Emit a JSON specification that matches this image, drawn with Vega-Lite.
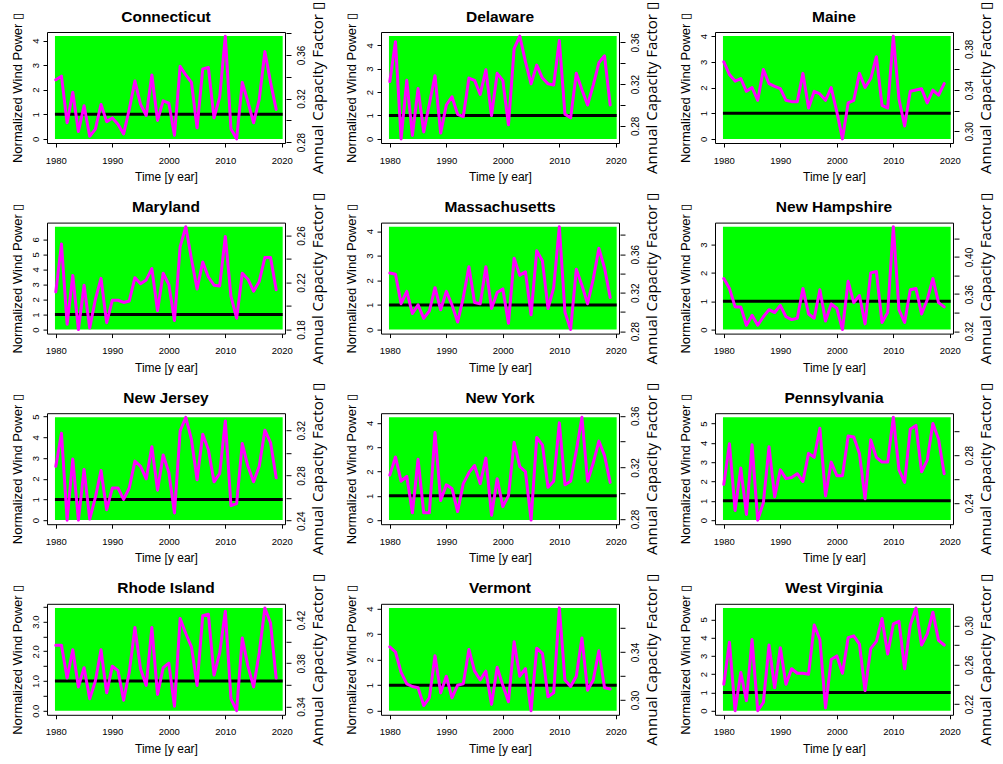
{
"$schema": "https://vega.github.io/schema/vega-lite/v6.json",
"padding": {"left": 10, "top": 1, "right": 2, "bottom": 10},
"background": "white",
"bounds": "flush",
"spacing": {"row": 79.6, "column": 96},
"columns": 3,
"config": {
 "view": {"stroke": "black", "strokeWidth": 1},
 "axis": {"grid": false, "domain": false, "ticks": true, "tickColor": "black", "tickSize": 4, "tickWidth": 1, "labelColor": "black", "labelFont": "Liberation Sans", "labelFontSize": 9.5, "titleColor": "black", "titleFont": "Liberation Sans", "titleFontWeight": "normal", "labelOverlap": false, "labelFlush": false},
 "axisX": {"labelPadding": 8, "titleFontSize": 12, "titlePadding": 7},
 "axisLeft": {"labelAngle": 270, "labelAlign": "center", "labelBaseline": "bottom", "labelPadding": 3, "titleFontSize": 13, "titlePadding": 6},
 "axisRight": {"labelAngle": 270, "labelAlign": "center", "labelBaseline": "top", "labelPadding": 5, "labelFontSize": 10, "titleFont": "Open Sans", "titleFontSize": 15, "titleAngle": 270, "titleBaseline": "top", "titlePadding": 4, "offset": 1, "tickSize": 5},
 "title": {"font": "Liberation Sans", "fontSize": 15.5, "fontWeight": "bold", "color": "black", "offset": -23.5, "frame": "group", "anchor": "middle"}
},
"datasets": {
 "panels": [
  {"state": "CT", "x1": 1979.85, "x2": 2020.15, "base": 0, "top": 4.18, "level": 1},
  {"state": "DE", "x1": 1979.85, "x2": 2020.15, "base": 0, "top": 4.39, "level": 1},
  {"state": "ME", "x1": 1979.85, "x2": 2020.15, "base": 0, "top": 4.0, "level": 1},
  {"state": "MD", "x1": 1979.85, "x2": 2020.15, "base": 0, "top": 6.85, "level": 1},
  {"state": "MA", "x1": 1979.85, "x2": 2020.15, "base": 0, "top": 4.18, "level": 1},
  {"state": "NH", "x1": 1979.85, "x2": 2020.15, "base": 0, "top": 3.63, "level": 1},
  {"state": "NJ", "x1": 1979.85, "x2": 2020.15, "base": 0, "top": 4.97, "level": 1},
  {"state": "NY", "x1": 1979.85, "x2": 2020.15, "base": 0, "top": 4.23, "level": 1},
  {"state": "PA", "x1": 1979.85, "x2": 2020.15, "base": 0, "top": 5.32, "level": 1},
  {"state": "RI", "x1": 1979.85, "x2": 2020.15, "base": 0, "top": 3.46, "level": 1},
  {"state": "VT", "x1": 1979.85, "x2": 2020.15, "base": 0, "top": 4.03, "level": 1},
  {"state": "WV", "x1": 1979.85, "x2": 2020.15, "base": 0, "top": 5.63, "level": 1}
 ],
 "cf": [
  {"state":"CT","year":1980,"cf":0.3371},{"state":"CT","year":1981,"cf":0.3405},{"state":"CT","year":1982,"cf":0.2977},{"state":"CT","year":1983,"cf":0.3258},{"state":"CT","year":1984,"cf":0.2898},{"state":"CT","year":1985,"cf":0.3134},{"state":"CT","year":1986,"cf":0.2853},{"state":"CT","year":1987,"cf":0.2920},{"state":"CT","year":1988,"cf":0.3146},{"state":"CT","year":1989,"cf":0.2988},
  {"state":"CT","year":1990,"cf":0.3022},{"state":"CT","year":1991,"cf":0.2965},{"state":"CT","year":1992,"cf":0.2875},{"state":"CT","year":1993,"cf":0.3100},{"state":"CT","year":1994,"cf":0.3360},{"state":"CT","year":1995,"cf":0.3146},{"state":"CT","year":1996,"cf":0.3044},{"state":"CT","year":1997,"cf":0.3416},{"state":"CT","year":1998,"cf":0.2999},{"state":"CT","year":1999,"cf":0.3179},
  {"state":"CT","year":2000,"cf":0.3157},{"state":"CT","year":2001,"cf":0.2864},{"state":"CT","year":2002,"cf":0.3495},{"state":"CT","year":2003,"cf":0.3416},{"state":"CT","year":2004,"cf":0.3348},{"state":"CT","year":2005,"cf":0.2931},{"state":"CT","year":2006,"cf":0.3472},{"state":"CT","year":2007,"cf":0.3484},{"state":"CT","year":2008,"cf":0.3022},{"state":"CT","year":2009,"cf":0.3213},
  {"state":"CT","year":2010,"cf":0.3772},{"state":"CT","year":2011,"cf":0.2920},{"state":"CT","year":2012,"cf":0.2830},{"state":"CT","year":2013,"cf":0.3348},{"state":"CT","year":2014,"cf":0.3168},{"state":"CT","year":2015,"cf":0.2977},{"state":"CT","year":2016,"cf":0.3191},{"state":"CT","year":2017,"cf":0.3630},{"state":"CT","year":2018,"cf":0.3348},{"state":"CT","year":2019,"cf":0.3100},
  {"state":"DE","year":1980,"cf":0.3225},{"state":"DE","year":1981,"cf":0.3606},{"state":"DE","year":1982,"cf":0.2675},{"state":"DE","year":1983,"cf":0.3236},{"state":"DE","year":1984,"cf":0.2709},{"state":"DE","year":1985,"cf":0.3157},{"state":"DE","year":1986,"cf":0.2742},{"state":"DE","year":1987,"cf":0.3011},{"state":"DE","year":1988,"cf":0.3281},{"state":"DE","year":1989,"cf":0.2731},
  {"state":"DE","year":1990,"cf":0.3000},{"state":"DE","year":1991,"cf":0.3079},{"state":"DE","year":1992,"cf":0.2911},{"state":"DE","year":1993,"cf":0.2888},{"state":"DE","year":1994,"cf":0.3258},{"state":"DE","year":1995,"cf":0.3236},{"state":"DE","year":1996,"cf":0.3101},{"state":"DE","year":1997,"cf":0.3337},{"state":"DE","year":1998,"cf":0.2899},{"state":"DE","year":1999,"cf":0.3303},
  {"state":"DE","year":2000,"cf":0.3236},{"state":"DE","year":2001,"cf":0.2810},{"state":"DE","year":2002,"cf":0.3539},{"state":"DE","year":2003,"cf":0.3660},{"state":"DE","year":2004,"cf":0.3415},{"state":"DE","year":2005,"cf":0.3202},{"state":"DE","year":2006,"cf":0.3382},{"state":"DE","year":2007,"cf":0.3258},{"state":"DE","year":2008,"cf":0.3202},{"state":"DE","year":2009,"cf":0.3191},
  {"state":"DE","year":2010,"cf":0.3617},{"state":"DE","year":2011,"cf":0.2911},{"state":"DE","year":2012,"cf":0.2877},{"state":"DE","year":2013,"cf":0.3303},{"state":"DE","year":2014,"cf":0.3146},{"state":"DE","year":2015,"cf":0.3000},{"state":"DE","year":2016,"cf":0.3191},{"state":"DE","year":2017,"cf":0.3404},{"state":"DE","year":2018,"cf":0.3471},{"state":"DE","year":2019,"cf":0.3000},
  {"state":"ME","year":1980,"cf":0.3674},{"state":"ME","year":1981,"cf":0.3550},{"state":"ME","year":1982,"cf":0.3487},{"state":"ME","year":1983,"cf":0.3512},{"state":"ME","year":1984,"cf":0.3388},{"state":"ME","year":1985,"cf":0.3425},{"state":"ME","year":1986,"cf":0.3301},{"state":"ME","year":1987,"cf":0.3599},{"state":"ME","year":1988,"cf":0.3462},{"state":"ME","year":1989,"cf":0.3437},
  {"state":"ME","year":1990,"cf":0.3413},{"state":"ME","year":1991,"cf":0.3301},{"state":"ME","year":1992,"cf":0.3288},{"state":"ME","year":1993,"cf":0.3288},{"state":"ME","year":1994,"cf":0.3562},{"state":"ME","year":1995,"cf":0.3226},{"state":"ME","year":1996,"cf":0.3388},{"state":"ME","year":1997,"cf":0.3363},{"state":"ME","year":1998,"cf":0.3301},{"state":"ME","year":1999,"cf":0.3425},
  {"state":"ME","year":2000,"cf":0.3188},{"state":"ME","year":2001,"cf":0.2927},{"state":"ME","year":2002,"cf":0.3276},{"state":"ME","year":2003,"cf":0.3301},{"state":"ME","year":2004,"cf":0.3562},{"state":"ME","year":2005,"cf":0.3425},{"state":"ME","year":2006,"cf":0.3512},{"state":"ME","year":2007,"cf":0.3724},{"state":"ME","year":2008,"cf":0.3251},{"state":"ME","year":2009,"cf":0.3226},
  {"state":"ME","year":2010,"cf":0.3923},{"state":"ME","year":2011,"cf":0.3313},{"state":"ME","year":2012,"cf":0.3052},{"state":"ME","year":2013,"cf":0.3388},{"state":"ME","year":2014,"cf":0.3400},{"state":"ME","year":2015,"cf":0.3413},{"state":"ME","year":2016,"cf":0.3276},{"state":"ME","year":2017,"cf":0.3400},{"state":"ME","year":2018,"cf":0.3350},{"state":"ME","year":2019,"cf":0.3462},
  {"state":"MD","year":1980,"cf":0.2120},{"state":"MD","year":1981,"cf":0.2528},{"state":"MD","year":1982,"cf":0.1845},{"state":"MD","year":1983,"cf":0.2260},{"state":"MD","year":1984,"cf":0.1800},{"state":"MD","year":1985,"cf":0.2177},{"state":"MD","year":1986,"cf":0.1813},{"state":"MD","year":1987,"cf":0.2056},{"state":"MD","year":1988,"cf":0.2235},{"state":"MD","year":1989,"cf":0.1858},
  {"state":"MD","year":1990,"cf":0.2049},{"state":"MD","year":1991,"cf":0.2049},{"state":"MD","year":1992,"cf":0.2030},{"state":"MD","year":1993,"cf":0.2043},{"state":"MD","year":1994,"cf":0.2241},{"state":"MD","year":1995,"cf":0.2190},{"state":"MD","year":1996,"cf":0.2222},{"state":"MD","year":1997,"cf":0.2318},{"state":"MD","year":1998,"cf":0.1960},{"state":"MD","year":1999,"cf":0.2279},
  {"state":"MD","year":2000,"cf":0.2183},{"state":"MD","year":2001,"cf":0.1877},{"state":"MD","year":2002,"cf":0.2503},{"state":"MD","year":2003,"cf":0.2675},{"state":"MD","year":2004,"cf":0.2401},{"state":"MD","year":2005,"cf":0.2145},{"state":"MD","year":2006,"cf":0.2375},{"state":"MD","year":2007,"cf":0.2247},{"state":"MD","year":2008,"cf":0.2177},{"state":"MD","year":2009,"cf":0.2171},
  {"state":"MD","year":2010,"cf":0.2592},{"state":"MD","year":2011,"cf":0.2081},{"state":"MD","year":2012,"cf":0.1896},{"state":"MD","year":2013,"cf":0.2279},{"state":"MD","year":2014,"cf":0.2228},{"state":"MD","year":2015,"cf":0.2126},{"state":"MD","year":2016,"cf":0.2209},{"state":"MD","year":2017,"cf":0.2413},{"state":"MD","year":2018,"cf":0.2413},{"state":"MD","year":2019,"cf":0.2139},
  {"state":"MA","year":1980,"cf":0.3405},{"state":"MA","year":1981,"cf":0.3392},{"state":"MA","year":1982,"cf":0.3085},{"state":"MA","year":1983,"cf":0.3213},{"state":"MA","year":1984,"cf":0.2983},{"state":"MA","year":1985,"cf":0.3073},{"state":"MA","year":1986,"cf":0.2932},{"state":"MA","year":1987,"cf":0.3009},{"state":"MA","year":1988,"cf":0.3252},{"state":"MA","year":1989,"cf":0.3022},
  {"state":"MA","year":1990,"cf":0.3213},{"state":"MA","year":1991,"cf":0.3073},{"state":"MA","year":1992,"cf":0.2894},{"state":"MA","year":1993,"cf":0.3149},{"state":"MA","year":1994,"cf":0.3469},{"state":"MA","year":1995,"cf":0.3098},{"state":"MA","year":1996,"cf":0.3085},{"state":"MA","year":1997,"cf":0.3469},{"state":"MA","year":1998,"cf":0.3034},{"state":"MA","year":1999,"cf":0.3201},
  {"state":"MA","year":2000,"cf":0.3239},{"state":"MA","year":2001,"cf":0.2881},{"state":"MA","year":2002,"cf":0.3559},{"state":"MA","year":2003,"cf":0.3380},{"state":"MA","year":2004,"cf":0.3418},{"state":"MA","year":2005,"cf":0.2970},{"state":"MA","year":2006,"cf":0.3635},{"state":"MA","year":2007,"cf":0.3533},{"state":"MA","year":2008,"cf":0.3034},{"state":"MA","year":2009,"cf":0.3252},
  {"state":"MA","year":2010,"cf":0.3886},{"state":"MA","year":2011,"cf":0.2996},{"state":"MA","year":2012,"cf":0.2817},{"state":"MA","year":2013,"cf":0.3443},{"state":"MA","year":2014,"cf":0.3277},{"state":"MA","year":2015,"cf":0.3085},{"state":"MA","year":2016,"cf":0.3341},{"state":"MA","year":2017,"cf":0.3661},{"state":"MA","year":2018,"cf":0.3456},{"state":"MA","year":2019,"cf":0.3149},
  {"state":"NH","year":1980,"cf":0.3768},{"state":"NH","year":1981,"cf":0.3661},{"state":"NH","year":1982,"cf":0.3462},{"state":"NH","year":1983,"cf":0.3462},{"state":"NH","year":1984,"cf":0.3264},{"state":"NH","year":1985,"cf":0.3371},{"state":"NH","year":1986,"cf":0.3264},{"state":"NH","year":1987,"cf":0.3356},{"state":"NH","year":1988,"cf":0.3432},{"state":"NH","year":1989,"cf":0.3401},
  {"state":"NH","year":1990,"cf":0.3478},{"state":"NH","year":1991,"cf":0.3356},{"state":"NH","year":1992,"cf":0.3325},{"state":"NH","year":1993,"cf":0.3340},{"state":"NH","year":1994,"cf":0.3661},{"state":"NH","year":1995,"cf":0.3386},{"state":"NH","year":1996,"cf":0.3340},{"state":"NH","year":1997,"cf":0.3646},{"state":"NH","year":1998,"cf":0.3310},{"state":"NH","year":1999,"cf":0.3493},
  {"state":"NH","year":2000,"cf":0.3447},{"state":"NH","year":2001,"cf":0.3218},{"state":"NH","year":2002,"cf":0.3738},{"state":"NH","year":2003,"cf":0.3508},{"state":"NH","year":2004,"cf":0.3585},{"state":"NH","year":2005,"cf":0.3279},{"state":"NH","year":2006,"cf":0.3829},{"state":"NH","year":2007,"cf":0.3844},{"state":"NH","year":2008,"cf":0.3294},{"state":"NH","year":2009,"cf":0.3401},
  {"state":"NH","year":2010,"cf":0.4327},{"state":"NH","year":2011,"cf":0.3432},{"state":"NH","year":2012,"cf":0.3294},{"state":"NH","year":2013,"cf":0.3646},{"state":"NH","year":2014,"cf":0.3661},{"state":"NH","year":2015,"cf":0.3386},{"state":"NH","year":2016,"cf":0.3539},{"state":"NH","year":2017,"cf":0.3768},{"state":"NH","year":2018,"cf":0.3508},{"state":"NH","year":2019,"cf":0.3462},
  {"state":"NJ","year":1980,"cf":0.2881},{"state":"NJ","year":1981,"cf":0.3174},{"state":"NJ","year":1982,"cf":0.2405},{"state":"NJ","year":1983,"cf":0.2945},{"state":"NJ","year":1984,"cf":0.2405},{"state":"NJ","year":1985,"cf":0.2853},{"state":"NJ","year":1986,"cf":0.2414},{"state":"NJ","year":1987,"cf":0.2606},{"state":"NJ","year":1988,"cf":0.2844},{"state":"NJ","year":1989,"cf":0.2497},
  {"state":"NJ","year":1990,"cf":0.2689},{"state":"NJ","year":1991,"cf":0.2689},{"state":"NJ","year":1992,"cf":0.2588},{"state":"NJ","year":1993,"cf":0.2689},{"state":"NJ","year":1994,"cf":0.2927},{"state":"NJ","year":1995,"cf":0.2881},{"state":"NJ","year":1996,"cf":0.2771},{"state":"NJ","year":1997,"cf":0.3055},{"state":"NJ","year":1998,"cf":0.2670},{"state":"NJ","year":1999,"cf":0.2981},
  {"state":"NJ","year":2000,"cf":0.2826},{"state":"NJ","year":2001,"cf":0.2469},{"state":"NJ","year":2002,"cf":0.3192},{"state":"NJ","year":2003,"cf":0.3315},{"state":"NJ","year":2004,"cf":0.3119},{"state":"NJ","year":2005,"cf":0.2762},{"state":"NJ","year":2006,"cf":0.3164},{"state":"NJ","year":2007,"cf":0.3027},{"state":"NJ","year":2008,"cf":0.2744},{"state":"NJ","year":2009,"cf":0.2817},
  {"state":"NJ","year":2010,"cf":0.3283},{"state":"NJ","year":2011,"cf":0.2533},{"state":"NJ","year":2012,"cf":0.2551},{"state":"NJ","year":2013,"cf":0.3082},{"state":"NJ","year":2014,"cf":0.2881},{"state":"NJ","year":2015,"cf":0.2744},{"state":"NJ","year":2016,"cf":0.2881},{"state":"NJ","year":2017,"cf":0.3201},{"state":"NJ","year":2018,"cf":0.3091},{"state":"NJ","year":2019,"cf":0.2780},
  {"state":"NY","year":1980,"cf":0.3140},{"state":"NY","year":1981,"cf":0.3281},{"state":"NY","year":1982,"cf":0.3093},{"state":"NY","year":1983,"cf":0.3131},{"state":"NY","year":1984,"cf":0.2848},{"state":"NY","year":1985,"cf":0.3263},{"state":"NY","year":1986,"cf":0.2848},{"state":"NY","year":1987,"cf":0.2848},{"state":"NY","year":1988,"cf":0.3470},{"state":"NY","year":1989,"cf":0.2943},
  {"state":"NY","year":1990,"cf":0.3065},{"state":"NY","year":1991,"cf":0.3037},{"state":"NY","year":1992,"cf":0.2858},{"state":"NY","year":1993,"cf":0.3074},{"state":"NY","year":1994,"cf":0.3159},{"state":"NY","year":1995,"cf":0.3215},{"state":"NY","year":1996,"cf":0.3074},{"state":"NY","year":1997,"cf":0.3272},{"state":"NY","year":1998,"cf":0.2830},{"state":"NY","year":1999,"cf":0.3112},
  {"state":"NY","year":2000,"cf":0.2896},{"state":"NY","year":2001,"cf":0.2980},{"state":"NY","year":2002,"cf":0.3394},{"state":"NY","year":2003,"cf":0.3206},{"state":"NY","year":2004,"cf":0.3168},{"state":"NY","year":2005,"cf":0.2792},{"state":"NY","year":2006,"cf":0.3432},{"state":"NY","year":2007,"cf":0.3375},{"state":"NY","year":2008,"cf":0.3046},{"state":"NY","year":2009,"cf":0.3093},
  {"state":"NY","year":2010,"cf":0.3545},{"state":"NY","year":2011,"cf":0.3065},{"state":"NY","year":2012,"cf":0.3093},{"state":"NY","year":2013,"cf":0.3328},{"state":"NY","year":2014,"cf":0.3588},{"state":"NY","year":2015,"cf":0.3093},{"state":"NY","year":2016,"cf":0.3234},{"state":"NY","year":2017,"cf":0.3404},{"state":"NY","year":2018,"cf":0.3291},{"state":"NY","year":2019,"cf":0.3084},
  {"state":"PA","year":1980,"cf":0.2556},{"state":"PA","year":1981,"cf":0.2895},{"state":"PA","year":1982,"cf":0.2338},{"state":"PA","year":1983,"cf":0.2693},{"state":"PA","year":1984,"cf":0.2305},{"state":"PA","year":1985,"cf":0.2887},{"state":"PA","year":1986,"cf":0.2257},{"state":"PA","year":1987,"cf":0.2402},{"state":"PA","year":1988,"cf":0.2871},{"state":"PA","year":1989,"cf":0.2451},
  {"state":"PA","year":1990,"cf":0.2677},{"state":"PA","year":1991,"cf":0.2604},{"state":"PA","year":1992,"cf":0.2613},{"state":"PA","year":1993,"cf":0.2645},{"state":"PA","year":1994,"cf":0.2580},{"state":"PA","year":1995,"cf":0.2815},{"state":"PA","year":1996,"cf":0.2782},{"state":"PA","year":1997,"cf":0.3025},{"state":"PA","year":1998,"cf":0.2459},{"state":"PA","year":1999,"cf":0.2742},
  {"state":"PA","year":2000,"cf":0.2629},{"state":"PA","year":2001,"cf":0.2629},{"state":"PA","year":2002,"cf":0.2960},{"state":"PA","year":2003,"cf":0.2952},{"state":"PA","year":2004,"cf":0.2815},{"state":"PA","year":2005,"cf":0.2435},{"state":"PA","year":2006,"cf":0.2928},{"state":"PA","year":2007,"cf":0.2782},{"state":"PA","year":2008,"cf":0.2742},{"state":"PA","year":2009,"cf":0.2742},
  {"state":"PA","year":2010,"cf":0.3117},{"state":"PA","year":2011,"cf":0.2677},{"state":"PA","year":2012,"cf":0.2572},{"state":"PA","year":2013,"cf":0.3017},{"state":"PA","year":2014,"cf":0.3049},{"state":"PA","year":2015,"cf":0.2661},{"state":"PA","year":2016,"cf":0.2758},{"state":"PA","year":2017,"cf":0.3065},{"state":"PA","year":2018,"cf":0.2936},{"state":"PA","year":2019,"cf":0.2645},
  {"state":"RI","year":1980,"cf":0.3966},{"state":"RI","year":1981,"cf":0.3966},{"state":"RI","year":1982,"cf":0.3663},{"state":"RI","year":1983,"cf":0.3924},{"state":"RI","year":1984,"cf":0.3581},{"state":"RI","year":1985,"cf":0.3759},{"state":"RI","year":1986,"cf":0.3471},{"state":"RI","year":1987,"cf":0.3636},{"state":"RI","year":1988,"cf":0.3924},{"state":"RI","year":1989,"cf":0.3526},
  {"state":"RI","year":1990,"cf":0.3773},{"state":"RI","year":1991,"cf":0.3732},{"state":"RI","year":1992,"cf":0.3457},{"state":"RI","year":1993,"cf":0.3718},{"state":"RI","year":1994,"cf":0.4130},{"state":"RI","year":1995,"cf":0.3746},{"state":"RI","year":1996,"cf":0.3595},{"state":"RI","year":1997,"cf":0.4130},{"state":"RI","year":1998,"cf":0.3512},{"state":"RI","year":1999,"cf":0.3759},
  {"state":"RI","year":2000,"cf":0.3801},{"state":"RI","year":2001,"cf":0.3402},{"state":"RI","year":2002,"cf":0.4213},{"state":"RI","year":2003,"cf":0.4075},{"state":"RI","year":2004,"cf":0.3952},{"state":"RI","year":2005,"cf":0.3595},{"state":"RI","year":2006,"cf":0.4240},{"state":"RI","year":2007,"cf":0.4254},{"state":"RI","year":2008,"cf":0.3691},{"state":"RI","year":2009,"cf":0.3897},
  {"state":"RI","year":2010,"cf":0.4282},{"state":"RI","year":2011,"cf":0.3471},{"state":"RI","year":2012,"cf":0.3361},{"state":"RI","year":2013,"cf":0.4034},{"state":"RI","year":2014,"cf":0.3773},{"state":"RI","year":2015,"cf":0.3581},{"state":"RI","year":2016,"cf":0.3897},{"state":"RI","year":2017,"cf":0.4312},{"state":"RI","year":2018,"cf":0.4172},{"state":"RI","year":2019,"cf":0.3663},
  {"state":"VT","year":1980,"cf":0.3443},{"state":"VT","year":1981,"cf":0.3400},{"state":"VT","year":1982,"cf":0.3230},{"state":"VT","year":1983,"cf":0.3134},{"state":"VT","year":1984,"cf":0.3112},{"state":"VT","year":1985,"cf":0.3102},{"state":"VT","year":1986,"cf":0.2953},{"state":"VT","year":1987,"cf":0.3017},{"state":"VT","year":1988,"cf":0.3368},{"state":"VT","year":1989,"cf":0.3059},
  {"state":"VT","year":1990,"cf":0.3198},{"state":"VT","year":1991,"cf":0.3017},{"state":"VT","year":1992,"cf":0.3123},{"state":"VT","year":1993,"cf":0.3134},{"state":"VT","year":1994,"cf":0.3421},{"state":"VT","year":1995,"cf":0.3240},{"state":"VT","year":1996,"cf":0.3166},{"state":"VT","year":1997,"cf":0.3240},{"state":"VT","year":1998,"cf":0.2963},{"state":"VT","year":1999,"cf":0.3272},
  {"state":"VT","year":2000,"cf":0.3123},{"state":"VT","year":2001,"cf":0.2985},{"state":"VT","year":2002,"cf":0.3485},{"state":"VT","year":2003,"cf":0.3198},{"state":"VT","year":2004,"cf":0.3261},{"state":"VT","year":2005,"cf":0.2910},{"state":"VT","year":2006,"cf":0.3432},{"state":"VT","year":2007,"cf":0.3389},{"state":"VT","year":2008,"cf":0.3027},{"state":"VT","year":2009,"cf":0.3059},
  {"state":"VT","year":2010,"cf":0.3768},{"state":"VT","year":2011,"cf":0.3166},{"state":"VT","year":2012,"cf":0.3112},{"state":"VT","year":2013,"cf":0.3198},{"state":"VT","year":2014,"cf":0.3517},{"state":"VT","year":2015,"cf":0.3080},{"state":"VT","year":2016,"cf":0.3166},{"state":"VT","year":2017,"cf":0.3411},{"state":"VT","year":2018,"cf":0.3102},{"state":"VT","year":2019,"cf":0.3091},
  {"state":"WV","year":1980,"cf":0.2402},{"state":"WV","year":1981,"cf":0.2828},{"state":"WV","year":1982,"cf":0.2133},{"state":"WV","year":1983,"cf":0.2522},{"state":"WV","year":1984,"cf":0.2235},{"state":"WV","year":1985,"cf":0.2856},{"state":"WV","year":1986,"cf":0.2133},{"state":"WV","year":1987,"cf":0.2216},{"state":"WV","year":1988,"cf":0.2800},{"state":"WV","year":1989,"cf":0.2365},
  {"state":"WV","year":1990,"cf":0.2773},{"state":"WV","year":1991,"cf":0.2402},{"state":"WV","year":1992,"cf":0.2559},{"state":"WV","year":1993,"cf":0.2513},{"state":"WV","year":1994,"cf":0.2513},{"state":"WV","year":1995,"cf":0.2504},{"state":"WV","year":1996,"cf":0.3004},{"state":"WV","year":1997,"cf":0.2856},{"state":"WV","year":1998,"cf":0.2161},{"state":"WV","year":1999,"cf":0.2652},
  {"state":"WV","year":2000,"cf":0.2689},{"state":"WV","year":2001,"cf":0.2513},{"state":"WV","year":2002,"cf":0.2875},{"state":"WV","year":2003,"cf":0.2893},{"state":"WV","year":2004,"cf":0.2810},{"state":"WV","year":2005,"cf":0.2337},{"state":"WV","year":2006,"cf":0.2763},{"state":"WV","year":2007,"cf":0.2838},{"state":"WV","year":2008,"cf":0.3069},{"state":"WV","year":2009,"cf":0.2708},
  {"state":"WV","year":2010,"cf":0.3014},{"state":"WV","year":2011,"cf":0.3041},{"state":"WV","year":2012,"cf":0.2559},{"state":"WV","year":2013,"cf":0.3004},{"state":"WV","year":2014,"cf":0.3177},{"state":"WV","year":2015,"cf":0.2800},{"state":"WV","year":2016,"cf":0.2912},{"state":"WV","year":2017,"cf":0.3134},{"state":"WV","year":2018,"cf":0.2847},{"state":"WV","year":2019,"cf":0.2800}
 ]
},
"concat": [
 {"width": 238, "height": 111, "title": "Connecticut",
  "layer": [
   {"data": {"name": "panels"}, "transform": [{"filter": "datum.state === 'CT'"}],
    "encoding": {"x": {"field": "x1", "type": "quantitative", "scale": {"domain": [1978.44, 2020.56], "nice": false, "zero": false}, "axis": {"title": "Time [y ear]", "values": [1980, 1990, 2000, 2010, 2020], "format": "d"}}, "x2": {"field": "x2"}},
    "layer": [
     {"mark": {"type": "rect", "color": "#00ff00"},
      "encoding": {"y": {"field": "base", "type": "quantitative", "scale": {"domain": [-0.167, 4.347], "nice": false, "zero": false}, "axis": {"title": "Normalized Wind Power ▯", "values": [0, 1, 2, 3, 4], "orient": "left"}}, "y2": {"field": "top"}}},
     {"mark": {"type": "rule", "color": "black", "strokeWidth": 3},
      "encoding": {"y": {"field": "level", "type": "quantitative", "axis": {"title": "Normalized Wind Power ▯", "values": [0, 1, 2, 3, 4], "orient": "left"}}}}
    ]},
   {"data": {"name": "cf"}, "transform": [{"filter": "datum.state === 'CT'"}],
    "mark": {"type": "line", "color": "#ff00ff", "strokeWidth": 3, "strokeJoin": "round", "strokeCap": "round"},
    "encoding": {"x": {"field": "year", "type": "quantitative", "axis": {"title": "Time [y ear]", "values": [1980, 1990, 2000, 2010, 2020], "format": "d"}},
     "y": {"field": "cf", "type": "quantitative", "scale": {"domain": [0.2792, 0.3810], "nice": false, "zero": false}, "axis": {"title": "Annual Capacity Factor ▯", "orient": "right", "values": [0.28, 0.30, 0.32, 0.34, 0.36, 0.38], "labelExpr": "round(datum.value*100) % 4 === 0 ? format(datum.value, '.2f') : ''"}}}}
  ],
  "resolve": {"scale": {"y": "independent"}}},
 {"width": 238, "height": 111, "title": "Delaware",
  "layer": [
   {"data": {"name": "panels"}, "transform": [{"filter": "datum.state === 'DE'"}],
    "encoding": {"x": {"field": "x1", "type": "quantitative", "scale": {"domain": [1978.44, 2020.56], "nice": false, "zero": false}, "axis": {"title": "Time [y ear]", "values": [1980, 1990, 2000, 2010, 2020], "format": "d"}}, "x2": {"field": "x2"}},
    "layer": [
     {"mark": {"type": "rect", "color": "#00ff00"},
      "encoding": {"y": {"field": "base", "type": "quantitative", "scale": {"domain": [-0.176, 4.566], "nice": false, "zero": false}, "axis": {"title": "Normalized Wind Power ▯", "values": [0, 1, 2, 3, 4], "orient": "left"}}, "y2": {"field": "top"}}},
     {"mark": {"type": "rule", "color": "black", "strokeWidth": 3},
      "encoding": {"y": {"field": "level", "type": "quantitative", "axis": {"title": "Normalized Wind Power ▯", "values": [0, 1, 2, 3, 4], "orient": "left"}}}}
    ]},
   {"data": {"name": "cf"}, "transform": [{"filter": "datum.state === 'DE'"}],
    "mark": {"type": "line", "color": "#ff00ff", "strokeWidth": 3, "strokeJoin": "round", "strokeCap": "round"},
    "encoding": {"x": {"field": "year", "type": "quantitative", "axis": {"title": "Time [y ear]", "values": [1980, 1990, 2000, 2010, 2020], "format": "d"}},
     "y": {"field": "cf", "type": "quantitative", "scale": {"domain": [0.2636, 0.3699], "nice": false, "zero": false}, "axis": {"title": "Annual Capacity Factor ▯", "orient": "right", "values": [0.28, 0.30, 0.32, 0.34, 0.36], "labelExpr": "round(datum.value*100) % 4 === 0 ? format(datum.value, '.2f') : ''"}}}}
  ],
  "resolve": {"scale": {"y": "independent"}}},
 {"width": 238, "height": 111, "title": "Maine",
  "layer": [
   {"data": {"name": "panels"}, "transform": [{"filter": "datum.state === 'ME'"}],
    "encoding": {"x": {"field": "x1", "type": "quantitative", "scale": {"domain": [1978.44, 2020.56], "nice": false, "zero": false}, "axis": {"title": "Time [y ear]", "values": [1980, 1990, 2000, 2010, 2020], "format": "d"}}, "x2": {"field": "x2"}},
    "layer": [
     {"mark": {"type": "rect", "color": "#00ff00"},
      "encoding": {"y": {"field": "base", "type": "quantitative", "scale": {"domain": [-0.16, 4.16], "nice": false, "zero": false}, "axis": {"title": "Normalized Wind Power ▯", "values": [0, 1, 2, 3, 4], "orient": "left"}}, "y2": {"field": "top"}}},
     {"mark": {"type": "rule", "color": "black", "strokeWidth": 3},
      "encoding": {"y": {"field": "level", "type": "quantitative", "axis": {"title": "Normalized Wind Power ▯", "values": [0, 1, 2, 3, 4], "orient": "left"}}}}
    ]},
   {"data": {"name": "cf"}, "transform": [{"filter": "datum.state === 'ME'"}],
    "mark": {"type": "line", "color": "#ff00ff", "strokeWidth": 3, "strokeJoin": "round", "strokeCap": "round"},
    "encoding": {"x": {"field": "year", "type": "quantitative", "axis": {"title": "Time [y ear]", "values": [1980, 1990, 2000, 2010, 2020], "format": "d"}},
     "y": {"field": "cf", "type": "quantitative", "scale": {"domain": [0.2887, 0.3963], "nice": false, "zero": false}, "axis": {"title": "Annual Capacity Factor ▯", "orient": "right", "values": [0.30, 0.32, 0.34, 0.36, 0.38], "labelExpr": "round(datum.value*100) % 4 === 2 ? format(datum.value, '.2f') : ''"}}}}
  ],
  "resolve": {"scale": {"y": "independent"}}},
 {"width": 238, "height": 111, "title": "Maryland",
  "layer": [
   {"data": {"name": "panels"}, "transform": [{"filter": "datum.state === 'MD'"}],
    "encoding": {"x": {"field": "x1", "type": "quantitative", "scale": {"domain": [1978.44, 2020.56], "nice": false, "zero": false}, "axis": {"title": "Time [y ear]", "values": [1980, 1990, 2000, 2010, 2020], "format": "d"}}, "x2": {"field": "x2"}},
    "layer": [
     {"mark": {"type": "rect", "color": "#00ff00"},
      "encoding": {"y": {"field": "base", "type": "quantitative", "scale": {"domain": [-0.274, 7.124], "nice": false, "zero": false}, "axis": {"title": "Normalized Wind Power ▯", "values": [0, 1, 2, 3, 4, 5, 6], "orient": "left"}}, "y2": {"field": "top"}}},
     {"mark": {"type": "rule", "color": "black", "strokeWidth": 3},
      "encoding": {"y": {"field": "level", "type": "quantitative", "axis": {"title": "Normalized Wind Power ▯", "values": [0, 1, 2, 3, 4, 5, 6], "orient": "left"}}}}
    ]},
   {"data": {"name": "cf"}, "transform": [{"filter": "datum.state === 'MD'"}],
    "mark": {"type": "line", "color": "#ff00ff", "strokeWidth": 3, "strokeJoin": "round", "strokeCap": "round"},
    "encoding": {"x": {"field": "year", "type": "quantitative", "axis": {"title": "Time [y ear]", "values": [1980, 1990, 2000, 2010, 2020], "format": "d"}},
     "y": {"field": "cf", "type": "quantitative", "scale": {"domain": [0.1765, 0.2710], "nice": false, "zero": false}, "axis": {"title": "Annual Capacity Factor ▯", "orient": "right", "values": [0.18, 0.20, 0.22, 0.24, 0.26], "labelExpr": "round(datum.value*100) % 4 === 2 ? format(datum.value, '.2f') : ''"}}}}
  ],
  "resolve": {"scale": {"y": "independent"}}},
 {"width": 238, "height": 111, "title": "Massachusetts",
  "layer": [
   {"data": {"name": "panels"}, "transform": [{"filter": "datum.state === 'MA'"}],
    "encoding": {"x": {"field": "x1", "type": "quantitative", "scale": {"domain": [1978.44, 2020.56], "nice": false, "zero": false}, "axis": {"title": "Time [y ear]", "values": [1980, 1990, 2000, 2010, 2020], "format": "d"}}, "x2": {"field": "x2"}},
    "layer": [
     {"mark": {"type": "rect", "color": "#00ff00"},
      "encoding": {"y": {"field": "base", "type": "quantitative", "scale": {"domain": [-0.167, 4.347], "nice": false, "zero": false}, "axis": {"title": "Normalized Wind Power ▯", "values": [0, 1, 2, 3, 4], "orient": "left"}}, "y2": {"field": "top"}}},
     {"mark": {"type": "rule", "color": "black", "strokeWidth": 3},
      "encoding": {"y": {"field": "level", "type": "quantitative", "axis": {"title": "Normalized Wind Power ▯", "values": [0, 1, 2, 3, 4], "orient": "left"}}}}
    ]},
   {"data": {"name": "cf"}, "transform": [{"filter": "datum.state === 'MA'"}],
    "mark": {"type": "line", "color": "#ff00ff", "strokeWidth": 3, "strokeJoin": "round", "strokeCap": "round"},
    "encoding": {"x": {"field": "year", "type": "quantitative", "axis": {"title": "Time [y ear]", "values": [1980, 1990, 2000, 2010, 2020], "format": "d"}},
     "y": {"field": "cf", "type": "quantitative", "scale": {"domain": [0.2774, 0.3929], "nice": false, "zero": false}, "axis": {"title": "Annual Capacity Factor ▯", "orient": "right", "values": [0.28, 0.30, 0.32, 0.34, 0.36, 0.38], "labelExpr": "round(datum.value*100) % 4 === 0 ? format(datum.value, '.2f') : ''"}}}}
  ],
  "resolve": {"scale": {"y": "independent"}}},
 {"width": 238, "height": 111, "title": "New Hampshire",
  "layer": [
   {"data": {"name": "panels"}, "transform": [{"filter": "datum.state === 'NH'"}],
    "encoding": {"x": {"field": "x1", "type": "quantitative", "scale": {"domain": [1978.44, 2020.56], "nice": false, "zero": false}, "axis": {"title": "Time [y ear]", "values": [1980, 1990, 2000, 2010, 2020], "format": "d"}}, "x2": {"field": "x2"}},
    "layer": [
     {"mark": {"type": "rect", "color": "#00ff00"},
      "encoding": {"y": {"field": "base", "type": "quantitative", "scale": {"domain": [-0.145, 3.775], "nice": false, "zero": false}, "axis": {"title": "Normalized Wind Power ▯", "values": [0, 1, 2, 3], "orient": "left"}}, "y2": {"field": "top"}}},
     {"mark": {"type": "rule", "color": "black", "strokeWidth": 3},
      "encoding": {"y": {"field": "level", "type": "quantitative", "axis": {"title": "Normalized Wind Power ▯", "values": [0, 1, 2, 3], "orient": "left"}}}}
    ]},
   {"data": {"name": "cf"}, "transform": [{"filter": "datum.state === 'NH'"}],
    "mark": {"type": "line", "color": "#ff00ff", "strokeWidth": 3, "strokeJoin": "round", "strokeCap": "round"},
    "encoding": {"x": {"field": "year", "type": "quantitative", "axis": {"title": "Time [y ear]", "values": [1980, 1990, 2000, 2010, 2020], "format": "d"}},
     "y": {"field": "cf", "type": "quantitative", "scale": {"domain": [0.3174, 0.4371], "nice": false, "zero": false}, "axis": {"title": "Annual Capacity Factor ▯", "orient": "right", "values": [0.32, 0.34, 0.36, 0.38, 0.40, 0.42], "labelExpr": "round(datum.value*100) % 4 === 0 ? format(datum.value, '.2f') : ''"}}}}
  ],
  "resolve": {"scale": {"y": "independent"}}},
 {"width": 238, "height": 111, "title": "New Jersey",
  "layer": [
   {"data": {"name": "panels"}, "transform": [{"filter": "datum.state === 'NJ'"}],
    "encoding": {"x": {"field": "x1", "type": "quantitative", "scale": {"domain": [1978.44, 2020.56], "nice": false, "zero": false}, "axis": {"title": "Time [y ear]", "values": [1980, 1990, 2000, 2010, 2020], "format": "d"}}, "x2": {"field": "x2"}},
    "layer": [
     {"mark": {"type": "rect", "color": "#00ff00"},
      "encoding": {"y": {"field": "base", "type": "quantitative", "scale": {"domain": [-0.199, 5.169], "nice": false, "zero": false}, "axis": {"title": "Normalized Wind Power ▯", "values": [0, 1, 2, 3, 4, 5], "orient": "left"}}, "y2": {"field": "top"}}},
     {"mark": {"type": "rule", "color": "black", "strokeWidth": 3},
      "encoding": {"y": {"field": "level", "type": "quantitative", "axis": {"title": "Normalized Wind Power ▯", "values": [0, 1, 2, 3, 4, 5], "orient": "left"}}}}
    ]},
   {"data": {"name": "cf"}, "transform": [{"filter": "datum.state === 'NJ'"}],
    "mark": {"type": "line", "color": "#ff00ff", "strokeWidth": 3, "strokeJoin": "round", "strokeCap": "round"},
    "encoding": {"x": {"field": "year", "type": "quantitative", "axis": {"title": "Time [y ear]", "values": [1980, 1990, 2000, 2010, 2020], "format": "d"}},
     "y": {"field": "cf", "type": "quantitative", "scale": {"domain": [0.2369, 0.3351], "nice": false, "zero": false}, "axis": {"title": "Annual Capacity Factor ▯", "orient": "right", "values": [0.24, 0.26, 0.28, 0.30, 0.32], "labelExpr": "round(datum.value*100) % 4 === 0 ? format(datum.value, '.2f') : ''"}}}}
  ],
  "resolve": {"scale": {"y": "independent"}}},
 {"width": 238, "height": 111, "title": "New York",
  "layer": [
   {"data": {"name": "panels"}, "transform": [{"filter": "datum.state === 'NY'"}],
    "encoding": {"x": {"field": "x1", "type": "quantitative", "scale": {"domain": [1978.44, 2020.56], "nice": false, "zero": false}, "axis": {"title": "Time [y ear]", "values": [1980, 1990, 2000, 2010, 2020], "format": "d"}}, "x2": {"field": "x2"}},
    "layer": [
     {"mark": {"type": "rect", "color": "#00ff00"},
      "encoding": {"y": {"field": "base", "type": "quantitative", "scale": {"domain": [-0.169, 4.399], "nice": false, "zero": false}, "axis": {"title": "Normalized Wind Power ▯", "values": [0, 1, 2, 3, 4], "orient": "left"}}, "y2": {"field": "top"}}},
     {"mark": {"type": "rule", "color": "black", "strokeWidth": 3},
      "encoding": {"y": {"field": "level", "type": "quantitative", "axis": {"title": "Normalized Wind Power ▯", "values": [0, 1, 2, 3, 4], "orient": "left"}}}}
    ]},
   {"data": {"name": "cf"}, "transform": [{"filter": "datum.state === 'NY'"}],
    "mark": {"type": "line", "color": "#ff00ff", "strokeWidth": 3, "strokeJoin": "round", "strokeCap": "round"},
    "encoding": {"x": {"field": "year", "type": "quantitative", "axis": {"title": "Time [y ear]", "values": [1980, 1990, 2000, 2010, 2020], "format": "d"}},
     "y": {"field": "cf", "type": "quantitative", "scale": {"domain": [0.2760, 0.3620], "nice": false, "zero": false}, "axis": {"title": "Annual Capacity Factor ▯", "orient": "right", "values": [0.28, 0.30, 0.32, 0.34, 0.36], "labelExpr": "round(datum.value*100) % 4 === 0 ? format(datum.value, '.2f') : ''"}}}}
  ],
  "resolve": {"scale": {"y": "independent"}}},
 {"width": 238, "height": 111, "title": "Pennsylvania",
  "layer": [
   {"data": {"name": "panels"}, "transform": [{"filter": "datum.state === 'PA'"}],
    "encoding": {"x": {"field": "x1", "type": "quantitative", "scale": {"domain": [1978.44, 2020.56], "nice": false, "zero": false}, "axis": {"title": "Time [y ear]", "values": [1980, 1990, 2000, 2010, 2020], "format": "d"}}, "x2": {"field": "x2"}},
    "layer": [
     {"mark": {"type": "rect", "color": "#00ff00"},
      "encoding": {"y": {"field": "base", "type": "quantitative", "scale": {"domain": [-0.213, 5.533], "nice": false, "zero": false}, "axis": {"title": "Normalized Wind Power ▯", "values": [0, 1, 2, 3, 4, 5], "orient": "left"}}, "y2": {"field": "top"}}},
     {"mark": {"type": "rule", "color": "black", "strokeWidth": 3},
      "encoding": {"y": {"field": "level", "type": "quantitative", "axis": {"title": "Normalized Wind Power ▯", "values": [0, 1, 2, 3, 4, 5], "orient": "left"}}}}
    ]},
   {"data": {"name": "cf"}, "transform": [{"filter": "datum.state === 'PA'"}],
    "mark": {"type": "line", "color": "#ff00ff", "strokeWidth": 3, "strokeJoin": "round", "strokeCap": "round"},
    "encoding": {"x": {"field": "year", "type": "quantitative", "axis": {"title": "Time [y ear]", "values": [1980, 1990, 2000, 2010, 2020], "format": "d"}},
     "y": {"field": "cf", "type": "quantitative", "scale": {"domain": [0.2223, 0.3151], "nice": false, "zero": false}, "axis": {"title": "Annual Capacity Factor ▯", "orient": "right", "values": [0.24, 0.26, 0.28, 0.30], "labelExpr": "round(datum.value*100) % 4 === 0 ? format(datum.value, '.2f') : ''"}}}}
  ],
  "resolve": {"scale": {"y": "independent"}}},
 {"width": 238, "height": 111, "title": "Rhode Island",
  "layer": [
   {"data": {"name": "panels"}, "transform": [{"filter": "datum.state === 'RI'"}],
    "encoding": {"x": {"field": "x1", "type": "quantitative", "scale": {"domain": [1978.44, 2020.56], "nice": false, "zero": false}, "axis": {"title": "Time [y ear]", "values": [1980, 1990, 2000, 2010, 2020], "format": "d"}}, "x2": {"field": "x2"}},
    "layer": [
     {"mark": {"type": "rect", "color": "#00ff00"},
      "encoding": {"y": {"field": "base", "type": "quantitative", "scale": {"domain": [-0.138, 3.598], "nice": false, "zero": false}, "axis": {"title": "Normalized Wind Power ▯", "values": [0, 0.5, 1, 1.5, 2, 2.5, 3, 3.5], "labelExpr": "datum.value % 1 === 0 ? format(datum.value, '.1f') : ''", "orient": "left"}}, "y2": {"field": "top"}}},
     {"mark": {"type": "rule", "color": "black", "strokeWidth": 3},
      "encoding": {"y": {"field": "level", "type": "quantitative", "axis": {"title": "Normalized Wind Power ▯", "values": [0, 0.5, 1, 1.5, 2, 2.5, 3, 3.5], "labelExpr": "datum.value % 1 === 0 ? format(datum.value, '.1f') : ''", "orient": "left"}}}}
    ]},
   {"data": {"name": "cf"}, "transform": [{"filter": "datum.state === 'RI'"}],
    "mark": {"type": "line", "color": "#ff00ff", "strokeWidth": 3, "strokeJoin": "round", "strokeCap": "round"},
    "encoding": {"x": {"field": "year", "type": "quantitative", "axis": {"title": "Time [y ear]", "values": [1980, 1990, 2000, 2010, 2020], "format": "d"}},
     "y": {"field": "cf", "type": "quantitative", "scale": {"domain": [0.3323, 0.4350], "nice": false, "zero": false}, "axis": {"title": "Annual Capacity Factor ▯", "orient": "right", "values": [0.34, 0.36, 0.38, 0.40, 0.42], "labelExpr": "round(datum.value*100) % 4 === 2 ? format(datum.value, '.2f') : ''"}}}}
  ],
  "resolve": {"scale": {"y": "independent"}}},
 {"width": 238, "height": 111, "title": "Vermont",
  "layer": [
   {"data": {"name": "panels"}, "transform": [{"filter": "datum.state === 'VT'"}],
    "encoding": {"x": {"field": "x1", "type": "quantitative", "scale": {"domain": [1978.44, 2020.56], "nice": false, "zero": false}, "axis": {"title": "Time [y ear]", "values": [1980, 1990, 2000, 2010, 2020], "format": "d"}}, "x2": {"field": "x2"}},
    "layer": [
     {"mark": {"type": "rect", "color": "#00ff00"},
      "encoding": {"y": {"field": "base", "type": "quantitative", "scale": {"domain": [-0.161, 4.191], "nice": false, "zero": false}, "axis": {"title": "Normalized Wind Power ▯", "values": [0, 1, 2, 3, 4], "orient": "left"}}, "y2": {"field": "top"}}},
     {"mark": {"type": "rule", "color": "black", "strokeWidth": 3},
      "encoding": {"y": {"field": "level", "type": "quantitative", "axis": {"title": "Normalized Wind Power ▯", "values": [0, 1, 2, 3, 4], "orient": "left"}}}}
    ]},
   {"data": {"name": "cf"}, "transform": [{"filter": "datum.state === 'VT'"}],
    "mark": {"type": "line", "color": "#ff00ff", "strokeWidth": 3, "strokeJoin": "round", "strokeCap": "round"},
    "encoding": {"x": {"field": "year", "type": "quantitative", "axis": {"title": "Time [y ear]", "values": [1980, 1990, 2000, 2010, 2020], "format": "d"}},
     "y": {"field": "cf", "type": "quantitative", "scale": {"domain": [0.2876, 0.3802], "nice": false, "zero": false}, "axis": {"title": "Annual Capacity Factor ▯", "orient": "right", "values": [0.30, 0.32, 0.34, 0.36], "labelExpr": "round(datum.value*100) % 4 === 2 ? format(datum.value, '.2f') : ''"}}}}
  ],
  "resolve": {"scale": {"y": "independent"}}},
 {"width": 238, "height": 111, "title": "West Virginia",
  "layer": [
   {"data": {"name": "panels"}, "transform": [{"filter": "datum.state === 'WV'"}],
    "encoding": {"x": {"field": "x1", "type": "quantitative", "scale": {"domain": [1978.44, 2020.56], "nice": false, "zero": false}, "axis": {"title": "Time [y ear]", "values": [1980, 1990, 2000, 2010, 2020], "format": "d"}}, "x2": {"field": "x2"}},
    "layer": [
     {"mark": {"type": "rect", "color": "#00ff00"},
      "encoding": {"y": {"field": "base", "type": "quantitative", "scale": {"domain": [-0.225, 5.855], "nice": false, "zero": false}, "axis": {"title": "Normalized Wind Power ▯", "values": [0, 1, 2, 3, 4, 5], "orient": "left"}}, "y2": {"field": "top"}}},
     {"mark": {"type": "rule", "color": "black", "strokeWidth": 3},
      "encoding": {"y": {"field": "level", "type": "quantitative", "axis": {"title": "Normalized Wind Power ▯", "values": [0, 1, 2, 3, 4, 5], "orient": "left"}}}}
    ]},
   {"data": {"name": "cf"}, "transform": [{"filter": "datum.state === 'WV'"}],
    "mark": {"type": "line", "color": "#ff00ff", "strokeWidth": 3, "strokeJoin": "round", "strokeCap": "round"},
    "encoding": {"x": {"field": "year", "type": "quantitative", "axis": {"title": "Time [y ear]", "values": [1980, 1990, 2000, 2010, 2020], "format": "d"}},
     "y": {"field": "cf", "type": "quantitative", "scale": {"domain": [0.2091, 0.3219], "nice": false, "zero": false}, "axis": {"title": "Annual Capacity Factor ▯", "orient": "right", "values": [0.22, 0.24, 0.26, 0.28, 0.30], "labelExpr": "round(datum.value*100) % 4 === 2 ? format(datum.value, '.2f') : ''"}}}}
  ],
  "resolve": {"scale": {"y": "independent"}}}
]
}
